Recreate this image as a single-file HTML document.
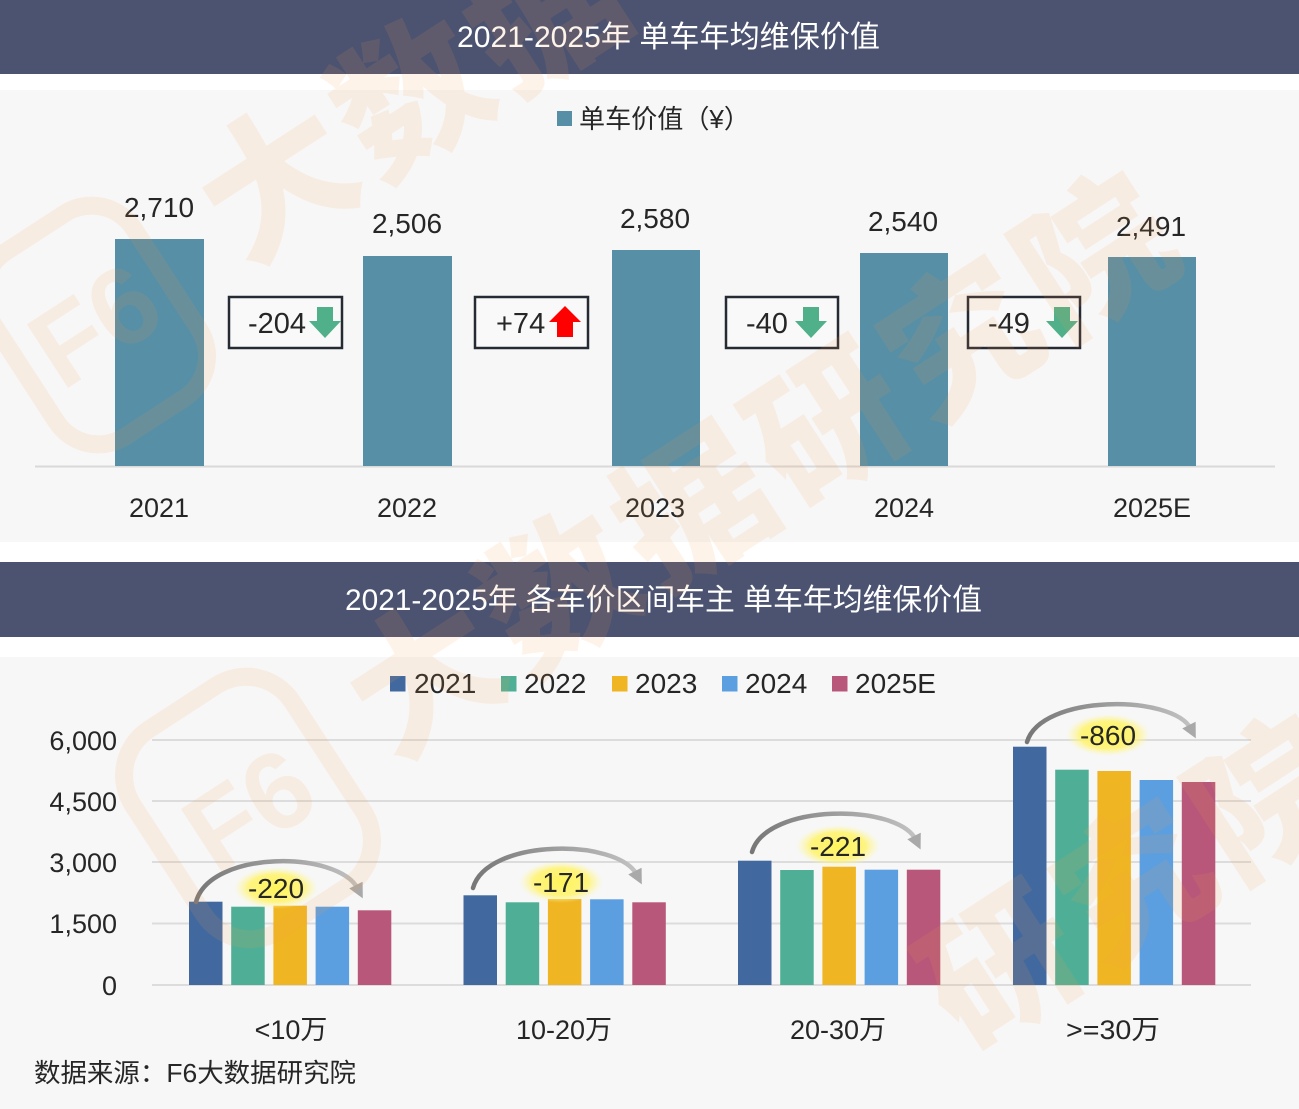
<!DOCTYPE html>
<html><head><meta charset="utf-8">
<style>
html,body{margin:0;padding:0;background:#fff;width:1299px;height:1109px;overflow:hidden;}
svg{display:block;overflow:hidden;}
text{font-family:"Liberation Sans","Noto Sans CJK SC",sans-serif;}
</style></head><body>
<svg width="1299" height="1109" viewBox="0 0 1299 1109" xmlns="http://www.w3.org/2000/svg">
<defs>
 <linearGradient id="ag" x1="0" y1="0" x2="1" y2="0"><stop offset="0" stop-color="#777"/><stop offset="1" stop-color="#c2c2c2"/></linearGradient>
 <marker id="ah" viewBox="0 0 10 10" refX="3" refY="5" markerWidth="15" markerHeight="15" markerUnits="userSpaceOnUse" orient="auto"><path d="M0,0 L10,5 L0,10 z" fill="#a9a9a9"/></marker>
 <radialGradient id="gl"><stop offset="0" stop-color="#fff45a" stop-opacity="1"/><stop offset="0.65" stop-color="#fff36b" stop-opacity="0.85"/><stop offset="1" stop-color="#fff8a0" stop-opacity="0"/></radialGradient>
 <clipPath id="cp"><rect x="0" y="0" width="1299" height="1109"/></clipPath>
</defs>
<g clip-path="url(#cp)">
<rect width="1299" height="1109" fill="#fff"/>
<rect x="0" y="0" width="1299" height="74" fill="#4b5371"/>
<rect x="0" y="90" width="1299" height="452" fill="#f7f7f7"/>
<rect x="0" y="562" width="1299" height="75" fill="#4b5371"/>
<rect x="0" y="657" width="1299" height="452" fill="#f7f7f7"/>

<!-- titles -->
<text x="457" y="47" font-size="30" fill="#fff" textLength="423" lengthAdjust="spacingAndGlyphs">2021-2025年 单车年均维保价值</text>
<text x="345" y="610" font-size="30" fill="#fff" textLength="637" lengthAdjust="spacingAndGlyphs">2021-2025年 各车价区间车主 单车年均维保价值</text>

<!-- top chart -->
<rect x="557" y="111" width="15" height="15" fill="#568fa6"/>
<text x="579" y="128" font-size="26" fill="#262626" textLength="171" lengthAdjust="spacingAndGlyphs">单车价值（¥）</text>
<line x1="35" y1="466.5" x2="1275" y2="466.5" stroke="#d9d9d9" stroke-width="2"/>
<g fill="#568fa6">
 <rect x="115" y="239" width="89" height="227"/>
 <rect x="363" y="256" width="89" height="210"/>
 <rect x="612" y="250" width="88" height="216"/>
 <rect x="860" y="253" width="88" height="213"/>
 <rect x="1108" y="257" width="88" height="209"/>
</g>
<g font-size="28" fill="#262626" text-anchor="middle">
 <text x="159" y="217">2,710</text>
 <text x="407" y="233">2,506</text>
 <text x="655" y="228">2,580</text>
 <text x="903" y="231">2,540</text>
 <text x="1151" y="236">2,491</text>
</g>
<g font-size="27" fill="#262626" text-anchor="middle">
 <text x="159" y="517">2021</text>
 <text x="407" y="517">2022</text>
 <text x="655" y="517">2023</text>
 <text x="904" y="517">2024</text>
 <text x="1152" y="517">2025E</text>
</g>
<!-- change boxes -->
<g fill="#f9f9f9" stroke="#262a33" stroke-width="2.5">
 <rect x="229" y="297" width="113" height="51"/>
 <rect x="475" y="297" width="113" height="51"/>
 <rect x="726" y="297" width="112" height="51"/>
 <rect x="968" y="297" width="112" height="51"/>
</g>
<g font-size="29" fill="#262626">
 <text x="248" y="333">-204</text>
 <text x="496" y="333">+74</text>
 <text x="746" y="333">-40</text>
 <text x="988" y="333">-49</text>
</g>
<g fill="#4fb08a">
 <polygon points="317,307 333,307 333,321 341,321 325,338 309,321 317,321"/>
 <polygon points="803,307 819,307 819,321 827,321 811,338 795,321 803,321"/>
 <polygon points="1054,307 1070,307 1070,321 1078,321 1062,338 1046,321 1054,321"/>
</g>
<polygon points="565,306 581,322 573,322 573,337 557,337 557,322 549,322" fill="#ff0000"/>

<!-- bottom chart -->
<g font-size="28" fill="#262626">
 <rect x="390" y="676" width="15.5" height="15.5" fill="#41699f"/><text x="414" y="693">2021</text>
 <rect x="501" y="676" width="15.5" height="15.5" fill="#4faf96"/><text x="524" y="693">2022</text>
 <rect x="612" y="676" width="15.5" height="15.5" fill="#efb523"/><text x="635" y="693">2023</text>
 <rect x="722" y="676" width="15.5" height="15.5" fill="#5b9fe0"/><text x="745" y="693">2024</text>
 <rect x="832" y="676" width="15.5" height="15.5" fill="#b8577a"/><text x="855" y="693">2025E</text>
</g>
<g stroke="#dcdcdc" stroke-width="2">
 <line x1="152" y1="740" x2="1251" y2="740"/>
 <line x1="152" y1="801" x2="1251" y2="801"/>
 <line x1="152" y1="862" x2="1251" y2="862"/>
 <line x1="152" y1="923.5" x2="1251" y2="923.5"/>
 <line x1="152" y1="985" x2="1251" y2="985"/>
</g>
<g font-size="27" fill="#262626" text-anchor="end">
 <text x="117" y="750">6,000</text>
 <text x="117" y="811">4,500</text>
 <text x="117" y="872">3,000</text>
 <text x="117" y="933">1,500</text>
 <text x="117" y="995">0</text>
</g>
<!-- group 1 -->
<rect x="189" y="901.7" width="33.5" height="83.3" fill="#41699f"/>
<rect x="231.2" y="906.7" width="33.5" height="78.3" fill="#4faf96"/>
<rect x="273.4" y="905.7" width="33.5" height="79.3" fill="#efb523"/>
<rect x="315.6" y="906.7" width="33.5" height="78.3" fill="#5b9fe0"/>
<rect x="357.8" y="910.3" width="33.5" height="74.7" fill="#b8577a"/>
<!-- group 2 -->
<rect x="463.5" y="895.3" width="33.5" height="89.7" fill="#41699f"/>
<rect x="505.7" y="902.3" width="33.5" height="82.7" fill="#4faf96"/>
<rect x="547.9" y="899" width="33.5" height="86" fill="#efb523"/>
<rect x="590.1" y="899.3" width="33.5" height="85.7" fill="#5b9fe0"/>
<rect x="632.3" y="902.3" width="33.5" height="82.7" fill="#b8577a"/>
<!-- group 3 -->
<rect x="738" y="860.7" width="33.5" height="124.3" fill="#41699f"/>
<rect x="780.2" y="870" width="33.5" height="115" fill="#4faf96"/>
<rect x="822.4" y="866.7" width="33.5" height="118.3" fill="#efb523"/>
<rect x="864.6" y="869.7" width="33.5" height="115.3" fill="#5b9fe0"/>
<rect x="906.8" y="869.7" width="33.5" height="115.3" fill="#b8577a"/>
<!-- group 4 -->
<rect x="1013" y="746.7" width="33.5" height="238.3" fill="#41699f"/>
<rect x="1055.2" y="769.7" width="33.5" height="215.3" fill="#4faf96"/>
<rect x="1097.4" y="771" width="33.5" height="214" fill="#efb523"/>
<rect x="1139.6" y="780" width="33.5" height="205" fill="#5b9fe0"/>
<rect x="1181.8" y="782" width="33.5" height="203" fill="#b8577a"/>

<!-- arcs -->
<g fill="none" stroke="url(#ag)" stroke-width="4.5" stroke-linecap="round" marker-end="url(#ah)">
 <path d="M196,902 C210,850 338,850 358,889"/>
 <path d="M473,888 C487,838 618,838 637,875"/>
 <path d="M752,852 C766,803 898,803 916,840"/>
 <path d="M1027,742 C1041,694 1173,694 1191,729"/>
</g>
<g>
 <ellipse cx="276" cy="888" rx="42" ry="21" fill="url(#gl)"/>
 <ellipse cx="561" cy="882" rx="42" ry="21" fill="url(#gl)"/>
 <ellipse cx="838" cy="846" rx="42" ry="21" fill="url(#gl)"/>
 <ellipse cx="1108" cy="735" rx="42" ry="21" fill="url(#gl)"/>
</g>
<g font-size="28" fill="#262626" text-anchor="middle">
 <text x="276" y="898">-220</text>
 <text x="561" y="892">-171</text>
 <text x="838" y="856">-221</text>
 <text x="1108" y="745">-860</text>
</g>
<g font-size="27" fill="#262626" text-anchor="middle">
 <text x="291" y="1039">&lt;10万</text>
 <text x="564" y="1039">10-20万</text>
 <text x="838" y="1039">20-30万</text>
 <text x="1113" y="1039" textLength="94" lengthAdjust="spacingAndGlyphs">&gt;=30万</text>
</g>
<text x="34" y="1082" font-size="26" fill="#262626" textLength="322" lengthAdjust="spacingAndGlyphs">数据来源：F6大数据研究院</text>

<!-- watermark -->
<g fill="#f39a4a" fill-opacity="0.12" font-size="150" font-weight="900" text-anchor="middle">
 <text transform="translate(277,180) rotate(-33)" y="55">大</text>
 <text transform="translate(411,96) rotate(-33)" y="55">数</text>
 <text transform="translate(545,12) rotate(-33)" y="55">据</text>

 <text transform="translate(425,675) rotate(-33)" y="55">大</text>
 <text transform="translate(559,591) rotate(-33)" y="55">数</text>
 <text transform="translate(693,507) rotate(-33)" y="55">据</text>
 <text transform="translate(827,423) rotate(-33)" y="55">研</text>
 <text transform="translate(961,339) rotate(-33)" y="55">究</text>
 <text transform="translate(1095,255) rotate(-33)" y="55">院</text>

 <text transform="translate(1000,966) rotate(-33)" y="55">研</text>
 <text transform="translate(1134,882) rotate(-33)" y="55">究</text>
 <text transform="translate(1268,798) rotate(-33)" y="55">院</text>
</g>
<g stroke="#f39a4a" stroke-opacity="0.12" fill="none" stroke-width="18">
 <rect transform="translate(95,325) rotate(-33)" x="-85" y="-110" width="170" height="220" rx="50"/>
 <rect transform="translate(248,808) rotate(-33)" x="-95" y="-120" width="190" height="240" rx="55"/>
</g>
<g fill="#f39a4a" fill-opacity="0.12" font-size="110" font-weight="900" text-anchor="middle">
 <text transform="translate(95,325) rotate(-33)" y="38">F6</text>
 <text transform="translate(248,808) rotate(-33)" y="40">F6</text>
</g>
</g>
</svg>
</body></html>
